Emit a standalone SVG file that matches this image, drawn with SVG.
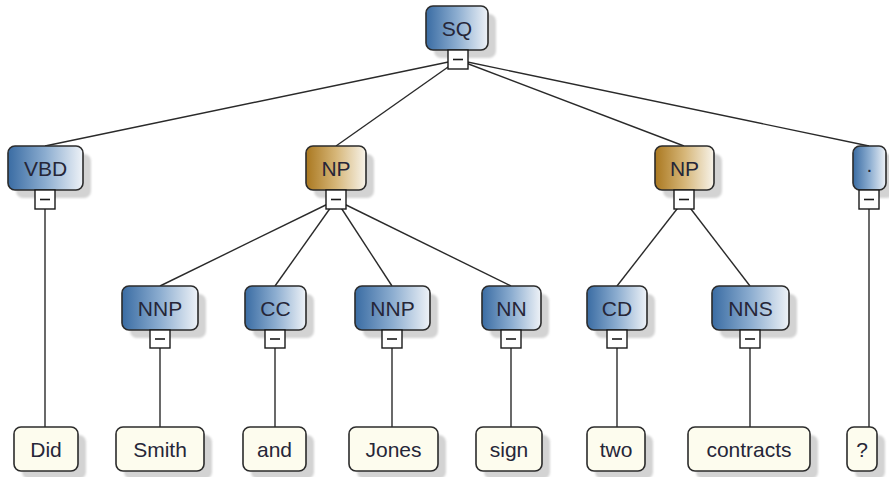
<svg xmlns="http://www.w3.org/2000/svg" width="889" height="477" viewBox="0 0 889 477">
  <defs>
    <linearGradient id="gBlue" x1="0" y1="0" x2="1" y2="0">
      <stop offset="0" stop-color="#3a6ca3"/>
      <stop offset="0.5" stop-color="#8cadd0"/>
      <stop offset="1" stop-color="#eef2f7"/>
    </linearGradient>
    <linearGradient id="gGold" x1="0" y1="0" x2="1" y2="0">
      <stop offset="0" stop-color="#aa7820"/>
      <stop offset="0.5" stop-color="#d6b678"/>
      <stop offset="1" stop-color="#f7f3ea"/>
    </linearGradient>
    <filter id="soft" x="-20%" y="-20%" width="140%" height="140%">
      <feGaussianBlur stdDeviation="1.2"/>
    </filter>
  </defs>
  <style>
    .box { stroke: #2b2b2b; stroke-width: 1.6; }
    .blue { fill: url(#gBlue); }
    .gold { fill: url(#gGold); }
    .leaf { fill: #fdfcee; }
    .shadow { fill: #d3d3d3; filter: url(#soft); }
    .tog { fill: #ffffff; stroke: #1a1a1a; stroke-width: 1.4; }
    .minus { stroke: #1a1a1a; stroke-width: 1.6; }
    .edge { stroke: #2a2a2a; stroke-width: 1.4; fill: none; }
    text { font-family: "Liberation Sans", Arial, sans-serif; font-size: 21px; fill: #262638; text-anchor: middle; }
  </style>

  <rect width="889" height="477" fill="#ffffff"/>

  <!-- connectors -->
  <g id="edges" class="edge">
    <line x1="458" y1="60" x2="45" y2="146"/>
    <line x1="458" y1="60" x2="336" y2="146"/>
    <line x1="458" y1="60" x2="684" y2="146"/>
    <line x1="458" y1="60" x2="869" y2="146"/>
    <line x1="336" y1="200" x2="160" y2="286"/>
    <line x1="336" y1="200" x2="275" y2="286"/>
    <line x1="336" y1="200" x2="392" y2="286"/>
    <line x1="336" y1="200" x2="511" y2="286"/>
    <line x1="684" y1="200" x2="617" y2="286"/>
    <line x1="684" y1="200" x2="750" y2="286"/>
    <line x1="45" y1="209" x2="45" y2="427"/>
    <line x1="160" y1="348" x2="160" y2="427"/>
    <line x1="275" y1="348" x2="275" y2="427"/>
    <line x1="392" y1="348" x2="392" y2="427"/>
    <line x1="511" y1="348" x2="511" y2="427"/>
    <line x1="617" y1="348" x2="617" y2="427"/>
    <line x1="750" y1="348" x2="750" y2="427"/>
    <line x1="869" y1="209" x2="869" y2="427"/>
  </g>

  <!-- root -->
  <g id="n-SQ">
    <rect class="shadow" x="434" y="14" width="62" height="44" rx="7"/>
    <rect class="box blue" x="426" y="6" width="62" height="44" rx="7"/>
    <text x="457" y="36">SQ</text>
    <rect class="tog" x="448" y="50" width="20" height="19"/>
    <line class="minus" x1="453" y1="59.5" x2="463" y2="59.5"/>
  </g>

  <!-- first level -->
  <g id="n-VBD">
    <rect class="shadow" x="16" y="154" width="75" height="44" rx="7"/>
    <rect class="box blue" x="8" y="146" width="75" height="44" rx="7"/>
    <text x="45.5" y="176">VBD</text>
    <rect class="tog" x="35" y="190" width="20" height="19"/>
    <line class="minus" x1="40" y1="199.5" x2="50" y2="199.5"/>
  </g>
  <g id="n-NP1">
    <rect class="shadow" x="314" y="154" width="60" height="44" rx="7"/>
    <rect class="box gold" x="306" y="146" width="60" height="44" rx="7"/>
    <text x="336" y="176">NP</text>
    <rect class="tog" x="326" y="190" width="20" height="19"/>
    <line class="minus" x1="331" y1="199.5" x2="341" y2="199.5"/>
  </g>
  <g id="n-NP2">
    <rect class="shadow" x="663" y="154" width="59" height="44" rx="7"/>
    <rect class="box gold" x="655" y="146" width="59" height="44" rx="7"/>
    <text x="684.5" y="176">NP</text>
    <rect class="tog" x="674" y="190" width="20" height="19"/>
    <line class="minus" x1="679" y1="199.5" x2="689" y2="199.5"/>
  </g>
  <g id="n-dot">
    <rect class="shadow" x="861" y="154" width="33" height="44" rx="7"/>
    <rect class="box blue" x="853" y="146" width="33" height="44" rx="7"/>
    <text x="869.5" y="172">.</text>
    <rect class="tog" x="859" y="190" width="20" height="19"/>
    <line class="minus" x1="864" y1="199.5" x2="874" y2="199.5"/>
  </g>

  <!-- second level -->
  <g id="n-NNP1">
    <rect class="shadow" x="130" y="294" width="76" height="44" rx="7"/>
    <rect class="box blue" x="122" y="286" width="76" height="44" rx="7"/>
    <text x="160" y="316">NNP</text>
    <rect class="tog" x="150" y="330" width="20" height="18"/>
    <line class="minus" x1="155" y1="339" x2="165" y2="339"/>
  </g>
  <g id="n-CC">
    <rect class="shadow" x="253" y="294" width="61" height="44" rx="7"/>
    <rect class="box blue" x="245" y="286" width="61" height="44" rx="7"/>
    <text x="275.5" y="316">CC</text>
    <rect class="tog" x="265" y="330" width="20" height="18"/>
    <line class="minus" x1="270" y1="339" x2="280" y2="339"/>
  </g>
  <g id="n-NNP2">
    <rect class="shadow" x="363" y="294" width="75" height="44" rx="7"/>
    <rect class="box blue" x="355" y="286" width="75" height="44" rx="7"/>
    <text x="392.5" y="316">NNP</text>
    <rect class="tog" x="382" y="330" width="20" height="18"/>
    <line class="minus" x1="387" y1="339" x2="397" y2="339"/>
  </g>
  <g id="n-NN">
    <rect class="shadow" x="490" y="294" width="59" height="44" rx="7"/>
    <rect class="box blue" x="482" y="286" width="59" height="44" rx="7"/>
    <text x="511.5" y="316">NN</text>
    <rect class="tog" x="501" y="330" width="20" height="18"/>
    <line class="minus" x1="506" y1="339" x2="516" y2="339"/>
  </g>
  <g id="n-CD">
    <rect class="shadow" x="595" y="294" width="60" height="44" rx="7"/>
    <rect class="box blue" x="587" y="286" width="60" height="44" rx="7"/>
    <text x="617" y="316">CD</text>
    <rect class="tog" x="607" y="330" width="20" height="18"/>
    <line class="minus" x1="612" y1="339" x2="622" y2="339"/>
  </g>
  <g id="n-NNS">
    <rect class="shadow" x="720" y="294" width="77" height="44" rx="7"/>
    <rect class="box blue" x="712" y="286" width="77" height="44" rx="7"/>
    <text x="750.5" y="316">NNS</text>
    <rect class="tog" x="740" y="330" width="20" height="18"/>
    <line class="minus" x1="745" y1="339" x2="755" y2="339"/>
  </g>

  <!-- words -->
  <g id="w-Did">
    <rect class="shadow" x="22" y="435" width="64" height="44" rx="7"/>
    <rect class="box leaf" x="14" y="427" width="64" height="44" rx="7"/>
    <text x="46" y="457">Did</text>
  </g>
  <g id="w-Smith">
    <rect class="shadow" x="124" y="435" width="88" height="44" rx="7"/>
    <rect class="box leaf" x="116" y="427" width="88" height="44" rx="7"/>
    <text x="160" y="457">Smith</text>
  </g>
  <g id="w-and">
    <rect class="shadow" x="251" y="435" width="63" height="44" rx="7"/>
    <rect class="box leaf" x="243" y="427" width="63" height="44" rx="7"/>
    <text x="274.5" y="457">and</text>
  </g>
  <g id="w-Jones">
    <rect class="shadow" x="357" y="435" width="89" height="44" rx="7"/>
    <rect class="box leaf" x="349" y="427" width="89" height="44" rx="7"/>
    <text x="393.5" y="457">Jones</text>
  </g>
  <g id="w-sign">
    <rect class="shadow" x="484" y="435" width="66" height="44" rx="7"/>
    <rect class="box leaf" x="476" y="427" width="66" height="44" rx="7"/>
    <text x="509" y="457">sign</text>
  </g>
  <g id="w-two">
    <rect class="shadow" x="595" y="435" width="58" height="44" rx="7"/>
    <rect class="box leaf" x="587" y="427" width="58" height="44" rx="7"/>
    <text x="616" y="457">two</text>
  </g>
  <g id="w-contracts">
    <rect class="shadow" x="696" y="435" width="122" height="44" rx="7"/>
    <rect class="box leaf" x="688" y="427" width="122" height="44" rx="7"/>
    <text x="749" y="457">contracts</text>
  </g>
  <g id="w-q">
    <rect class="shadow" x="855" y="435" width="30" height="44" rx="7"/>
    <rect class="box leaf" x="847" y="427" width="30" height="44" rx="7"/>
    <text x="862" y="457">?</text>
  </g>
</svg>
